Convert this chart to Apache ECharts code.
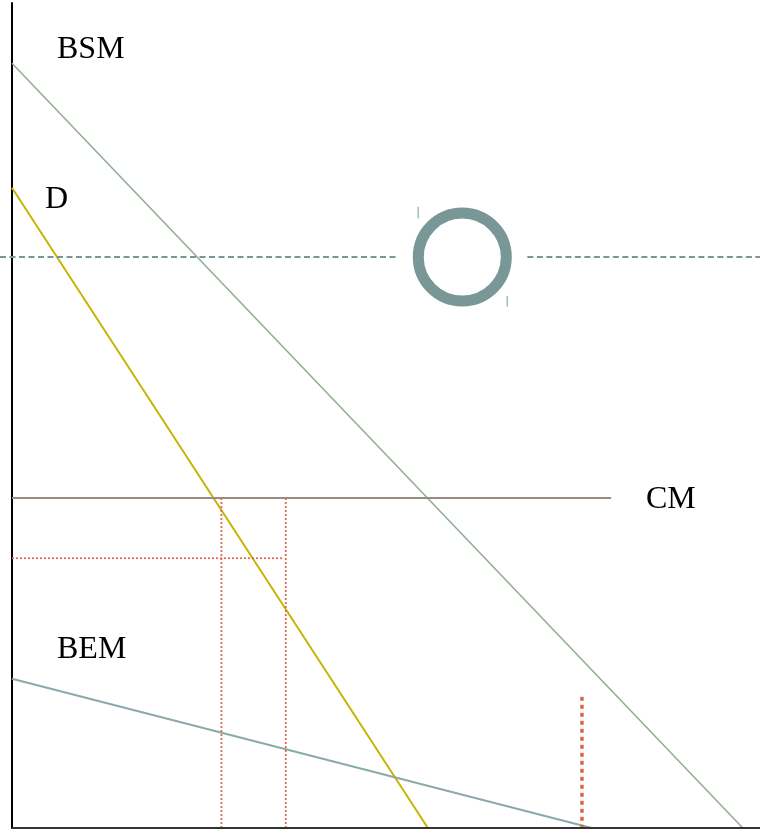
<!DOCTYPE html>
<html><head><meta charset="utf-8">
<script src="https://cdn.jsdelivr.net/npm/echarts@6/dist/echarts.min.js"></script>
<style>html,body{margin:0;padding:0;background:#fff}#c{width:760px;height:829px}</style>
</head><body><div id="c"></div>
<script>
// Data in chart units (x: quantity 0..100, y: price 0..100)
const xAxisBase = [[0, 0], [100, 0]];
const bsm = [[0, 92.7], [97.7, 0]];
const demand = [[0, 77.6], [55.6, 0]];
const cm = [[0, 40.0], [80.1, 40.0]];
const bem = [[0, 18.1], [77.5, 0]];
const dashedLeft = [[-1.6, 69.2], [51.5, 69.2]];
const dashedRight = [[68.9, 69.2], [100, 69.2]];
const ringCenter = [[60.2, 69.2]];
const tickA = [[54.3, 73.9], [54.3, 75.3]];
const tickB = [[66.2, 63.2], [66.2, 64.5]];
const redH = [[0, 32.7], [36.1, 32.7]];
const redV1 = [[28.0, 40.0], [28.0, 0]];
const redV2 = [[36.6, 40.0], [36.6, 0]];
const orangeV = [[76.2, 15.9], [76.2, 0]];
const labels = ['BSM', 'D', 'CM', 'BEM'];

const chart = echarts.init(document.getElementById('c'));
function line(data, color, width, type, z) {
  return {type: 'line', data: data, symbol: 'none', clip: false, silent: true, z: z || 2,
    lineStyle: {color: color, width: width, type: type || 'solid'}, animation: false};
}
const font = '"Liberation Serif", "DejaVu Serif", serif';
chart.setOption({
  animation: false,
  grid: {left: 0, right: 0, top: 3, bottom: 1},
  xAxis: {type: 'value', min: -1.6, max: 100, axisLine: {show: false},
    axisTick: {show: false}, axisLabel: {show: false}, splitLine: {show: false}},
  yAxis: {type: 'value', min: 0, max: 100, axisLine: {show: true, onZero: true, lineStyle: {color: '#000', width: 2}},
    axisTick: {show: false}, axisLabel: {show: false}, splitLine: {show: false}},
  series: [
    line(xAxisBase, '#333', 2, 'solid', 4),
    line(bsm, '#8fb08f', 1.6),
    line(demand, '#c9b300', 2),
    line(cm, '#9a8b82', 2),
    line(bem, '#88aaab', 2),
    line(dashedLeft, '#7a9598', 2, [6, 3.5]),
    line(dashedRight, '#7a9598', 2, [6, 3.5]),
    line(tickA, '#7a9598', 1),
    line(tickB, '#7a9598', 1),
    line(redH, '#e06a4e', 1.8, [2, 2]),
    line(redV1, '#e06a4e', 1.8, [2, 2]),
    line(redV2, '#e06a4e', 1.8, [2, 2]),
    line(orangeV, '#df6446', 3.5, [4, 4], 3),
    {type: 'scatter', data: ringCenter, symbol: 'circle', symbolSize: 88, silent: true,
      itemStyle: {color: 'rgba(0,0,0,0)', borderColor: '#799796', borderWidth: 11, opacity: 1}}
  ],
  graphic: [
    {type: 'text', left: 57, top: 34, style: {text: labels[0], font: '32px ' + font, fill: '#000'}},
    {type: 'text', left: 45, top: 184, style: {text: labels[1], font: '32px ' + font, fill: '#000'}},
    {type: 'text', left: 646, top: 484, style: {text: labels[2], font: '32px ' + font, fill: '#000'}},
    {type: 'text', left: 57, top: 634, style: {text: labels[3], font: '32px ' + font, fill: '#000'}}
  ]
});
</script></body></html>
